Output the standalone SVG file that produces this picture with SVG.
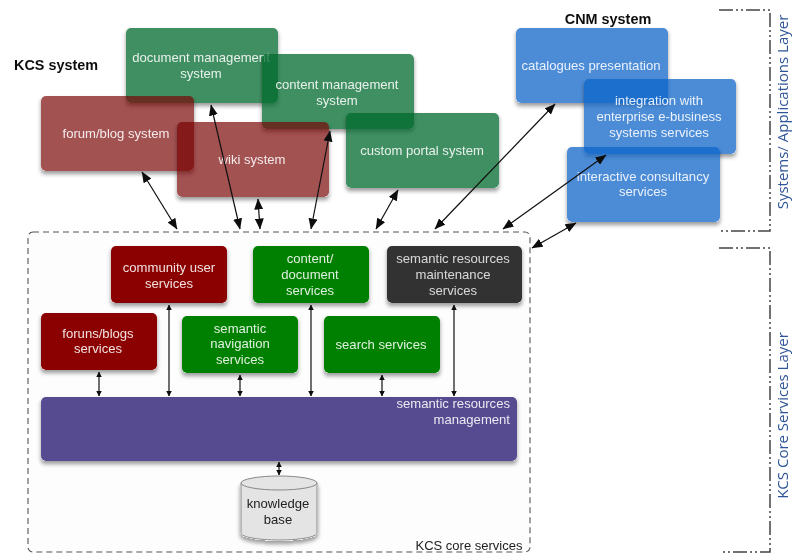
<svg xmlns="http://www.w3.org/2000/svg" width="794" height="554" viewBox="0 0 794 554">
<defs>
<style>
text{font-family:"Liberation Sans",Arial,sans-serif;font-size:13.1px;fill:#fff;fill-opacity:.88;text-anchor:middle}
.dim{fill:#eeeeee}
.head{font-weight:bold;fill:#111;fill-opacity:1;font-size:14.4px}
.layer{font-family:"Open Sans","Noto Sans",sans-serif;font-size:15px;fill:#2f5597;fill-opacity:1}
.dark{fill:#222;fill-opacity:1}
.box{stroke:none}
.g{fill:#00692d;fill-opacity:.75}
.r{fill:#780000;fill-opacity:.68}
.b{fill:#0f65c9;fill-opacity:.75}
.cr{fill:#8b0000}
.cg{fill:#008000}
.cd{fill:#333333}
.cp{fill:#564b90}
.lnk{stroke:#111;fill:none;stroke-width:1.2;marker-start:url(#ah);marker-end:url(#ah)}
.lnk2{stroke:#222;fill:none;stroke-width:1.3;marker-start:url(#as);marker-end:url(#as)}
.br{fill:none;stroke:#444;stroke-width:1.5;stroke-dasharray:14 3 2 3 2 3}
</style>
<marker id="ah" viewBox="0 0 11 9" refX="10.5" refY="4.5" markerUnits="userSpaceOnUse" markerWidth="11" markerHeight="9" orient="auto-start-reverse"><path d="M0 0L11 4.5L0 9z" fill="#111"/></marker>
<marker id="as" viewBox="0 0 6 6" refX="5.5" refY="3" markerUnits="userSpaceOnUse" markerWidth="5.5" markerHeight="5.5" orient="auto-start-reverse"><path d="M0 0L6 3L0 6z" fill="#111"/></marker>
<filter id="sh" x="-15%" y="-20%" width="130%" height="150%">
<feComponentTransfer in="SourceAlpha" result="mask"><feFuncA type="linear" slope="50"/></feComponentTransfer>
<feGaussianBlur in="mask" stdDeviation="2"/><feOffset dy="2.5"/><feComponentTransfer result="s"><feFuncA type="linear" slope=".4"/></feComponentTransfer>
<feComposite in="s" in2="mask" operator="out" result="so"/>
<feMerge><feMergeNode in="so"/><feMergeNode in="SourceGraphic"/></feMerge></filter>
<filter id="soft" x="0" y="0" width="794" height="554" filterUnits="userSpaceOnUse"><feGaussianBlur stdDeviation="0.55"/></filter>
</defs>
<rect width="794" height="554" fill="#fff"/>
<g filter="url(#soft)">
<g id="core-services"><rect x="28" y="232" width="502" height="320" rx="5" fill="#fdfdfd" stroke="#555" stroke-width="1.1" stroke-dasharray="6 4"/><text class="dark" x="469" y="550" style="font-size:13px">KCS core services</text></g>
<g id="layer-systems"><path class="br" d="M719 10H770V231H720"/><text class="layer" transform="translate(788 112) rotate(-90)">Systems/ Applications Layer</text></g>
<g id="layer-core"><path class="br" d="M719 248H770V552H720"/><text class="layer" transform="translate(788 415.500) rotate(-90)">KCS Core Services Layer</text></g>
<g id="kcs-label"><text class="head" x="56" y="70">KCS system</text></g>
<g id="cnm-label"><text class="head" x="608" y="24">CNM system</text></g>

<g id="doc-mgmt"><rect class="box g" x="126" y="28" width="152" height="75" rx="5" filter="url(#sh)"/><text x="201" y="62">document management</text><text x="201" y="78">system</text></g>
<g id="content-mgmt"><rect class="box g" x="262" y="54" width="152" height="75" rx="5" filter="url(#sh)"/><text x="337" y="89">content management</text><text x="337" y="105">system</text></g>
<g id="forum"><rect class="box r" x="41" y="96" width="153" height="75" rx="5" filter="url(#sh)"/><text x="116" y="138">forum/blog system</text></g>
<g id="wiki"><rect class="box r" x="177" y="122" width="152" height="75" rx="5" filter="url(#sh)"/><text x="252" y="164">wiki system</text></g>
<g id="portal"><rect class="box g" x="346" y="113" width="153" height="75" rx="5" filter="url(#sh)"/><text x="422" y="155">custom portal system</text></g>
<g id="catalogues"><rect class="box b" x="516" y="28" width="152" height="75" rx="5" filter="url(#sh)"/><text x="591" y="70">catalogues presentation</text></g>
<g id="integration"><rect class="box b" x="584" y="79" width="152" height="75" rx="5" filter="url(#sh)"/><text x="659" y="105">integration with</text><text x="659" y="121">enterprise e-business</text><text x="659" y="137">systems services</text></g>
<g id="consultancy"><rect class="box b" x="567" y="147" width="153" height="75" rx="5" filter="url(#sh)"/><text x="643" y="181">interactive consultancy</text><text x="643" y="196">services</text></g>

<g id="community"><rect class="box cr" x="111" y="246" width="116" height="57" rx="5" filter="url(#sh)"/><text x="169" y="272">community user</text><text x="169" y="288">services</text></g>
<g id="content-doc"><rect class="box cg" x="253" y="246" width="116" height="57" rx="5" filter="url(#sh)"/><text x="310" y="263">content/</text><text x="310" y="279">document</text><text x="310" y="295">services</text></g>
<g id="maintenance"><rect class="box cd" x="387" y="246" width="135" height="57" rx="5" filter="url(#sh)"/><text class="dim" x="453" y="263">semantic resources</text><text class="dim" x="453" y="279">maintenance</text><text class="dim" x="453" y="295">services</text></g>
<g id="forums"><rect class="box cr" x="41" y="313" width="116" height="57" rx="5" filter="url(#sh)"/><text x="98" y="338">foruns/blogs</text><text x="98" y="353">services</text></g>
<g id="navigation"><rect class="box cg" x="182" y="316" width="116" height="57" rx="5" filter="url(#sh)"/><text x="240" y="333">semantic</text><text x="240" y="348">navigation</text><text x="240" y="364">services</text></g>
<g id="search"><rect class="box cg" x="324" y="316" width="116" height="57" rx="5" filter="url(#sh)"/><text x="381" y="349">search services</text></g>
<g id="resources-mgmt"><rect class="box cp" x="41" y="397" width="476" height="64" rx="5" filter="url(#sh)"/><text x="510" y="408" style="text-anchor:end">semantic resources</text><text x="510" y="424" style="text-anchor:end">management</text></g>
<g id="knowledge-base"><path d="M241 483V533C241 537 258 540 279 540S317 537 317 533V483z" fill="#e4e4e4" stroke="#888" filter="url(#sh)"/><ellipse cx="279" cy="483" rx="38" ry="7" fill="#e4e4e4" stroke="#888"/><text class="dark" x="278" y="508">knowledge</text><text class="dark" x="278" y="524">base</text></g>

<g id="connectors">
<line class="lnk" x1="142" y1="172" x2="177" y2="229"/>
<line class="lnk" x1="211" y1="105" x2="240" y2="229"/>
<line class="lnk" x1="258" y1="199" x2="260" y2="229"/>
<line class="lnk" x1="330" y1="131" x2="311" y2="229"/>
<line class="lnk" x1="398" y1="190" x2="376" y2="229"/>
<line class="lnk" x1="555" y1="104" x2="435" y2="229"/>
<line class="lnk" x1="606" y1="155" x2="503" y2="229"/>
<line class="lnk" x1="576" y1="223" x2="532" y2="248"/>
<line class="lnk2" x1="99" y1="372" x2="99" y2="396"/>
<line class="lnk2" x1="169" y1="305" x2="169" y2="396"/>
<line class="lnk2" x1="240" y1="375" x2="240" y2="396"/>
<line class="lnk2" x1="311" y1="305" x2="311" y2="396"/>
<line class="lnk2" x1="382" y1="375" x2="382" y2="396"/>
<line class="lnk2" x1="454" y1="305" x2="454" y2="396"/>
<line class="lnk2" x1="279" y1="462" x2="279" y2="475"/>
</g>
</g>
</svg>
